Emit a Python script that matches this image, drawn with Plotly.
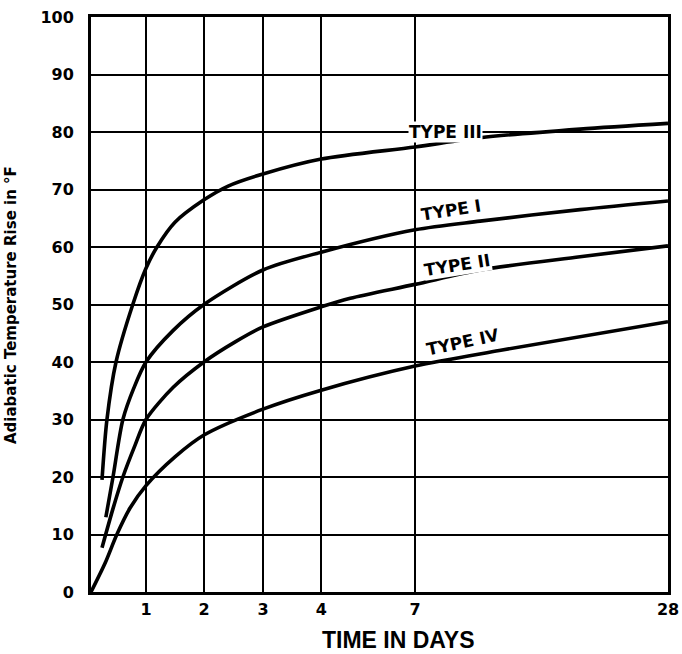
import numpy as np
import plotly.graph_objects as go

# ---- data ----
tick_days = [0, 1, 2, 3, 4, 7, 28]
tick_labels = ["", "1", "2", "3", "4", "7", "28"]

type3_days = [0.2, 0.29, 0.455, 0.76, 1.0, 1.19, 1.5, 2.0, 2.41, 3, 4, 7, 12.4, 20.7, 28]
type3_vals = [19.5, 30, 40, 50, 56.3, 60, 64.3, 68.2, 70.6, 72.7, 75.3, 77.4, 79, 80.5, 81.5]

type1_days = [0.27, 0.40, 0.58, 0.78, 1.0, 1.47, 2.0, 3, 4, 7, 12.4, 20.7, 28]
type1_vals = [13, 20, 30, 35.5, 40, 45.5, 50, 56, 59.1, 63, 64.5, 66.5, 68]

type2_days = [0.2, 0.4, 0.58, 0.8, 1.0, 1.47, 2.0, 2.53, 3, 4, 4.93, 7, 12.4, 20.7, 28]
type2_vals = [7.7, 14.5, 20, 25.5, 30, 35.6, 40, 43.5, 46.1, 49.6, 51.1, 53.5, 56, 58.3, 60.2]

type4_days = [0, 0.255, 0.47, 0.71, 1.0, 1.5, 2.0, 3, 4, 7, 14, 28]
type4_vals = [0, 5, 10, 14.6, 18.5, 23.5, 27.3, 31.8, 35.1, 39.3, 42, 47]

# the chart's own non-uniform time scale (axis position of each labelled day)
TICK_POS = [0, 0.953, 1.958, 2.98, 3.99, 5.615, 10.0]


def to_axis(days):
    return np.interp(days, tick_days, TICK_POS)


fig = go.Figure()
for d, v in [(type3_days, type3_vals), (type1_days, type1_vals),
             (type2_days, type2_vals), (type4_days, type4_vals)]:
    fig.add_trace(go.Scatter(
        x=to_axis(d), y=v, mode="lines",
        line=dict(color="black", width=3.6, shape="spline", smoothing=0.8),
        showlegend=False, hoverinfo="skip"))

tick_font = dict(family="DejaVu Sans", size=16, color="black", weight="bold")

fig.update_xaxes(
    range=[0, 10], tickvals=TICK_POS, ticktext=tick_labels,
    showgrid=True, gridcolor="black", gridwidth=1.8,
    showline=True, linecolor="black", linewidth=3, mirror=True,
    zeroline=False, ticks="", tickfont=tick_font, ticklabelstandoff=1,
    automargin=False)
fig.update_yaxes(
    range=[0, 100], tick0=0, dtick=10,
    showgrid=True, gridcolor="black", gridwidth=1.8,
    showline=True, linecolor="black", linewidth=3, mirror=True,
    zeroline=False, ticks="", tickfont=tick_font, ticklabelstandoff=11,
    automargin=False)

W, H = 682, 654
L, R, T, B = 91, 14, 17, 62
pw, ph = W - L - R, H - T - B

lab_font = dict(family="DejaVu Sans", size=17, color="black", weight="bold")
labels = [
    ("TYPE III", 6.14, 80.0, 0),
    ("TYPE I", 6.24, 66.4, -9),
    ("TYPE II", 6.35, 56.8, -9),
    ("TYPE IV", 6.45, 43.4, -12),
]
for txt, x, y, ang in labels:
    fig.add_annotation(x=x, y=y, xref="x", yref="y", text=txt, showarrow=False,
                       font=lab_font, textangle=ang, bgcolor="white", borderpad=0,
                       xanchor="center", yanchor="middle")

fig.add_annotation(x=(398 - L) / pw, y=(H - B - 640) / ph, xref="paper", yref="paper",
                   text="TIME IN DAYS", showarrow=False,
                   xanchor="center", yanchor="middle",
                   font=dict(family="Liberation Sans", size=23, color="black", weight="bold"))
fig.add_annotation(x=(11 - L) / pw, y=(H - B - 305) / ph, xref="paper", yref="paper",
                   text="Adiabatic Temperature Rise in °F", textangle=-90,
                   showarrow=False, xanchor="center", yanchor="middle",
                   font=dict(family="DejaVu Sans", size=15, color="black", weight="bold"))

fig.update_layout(
    width=W, height=H, margin=dict(l=L, r=R, t=T, b=B, autoexpand=False),
    paper_bgcolor="white", plot_bgcolor="white")

fig.write_html("out.html", config={"displayModeBar": False},
               post_script="document.body.style.margin='0px';")
